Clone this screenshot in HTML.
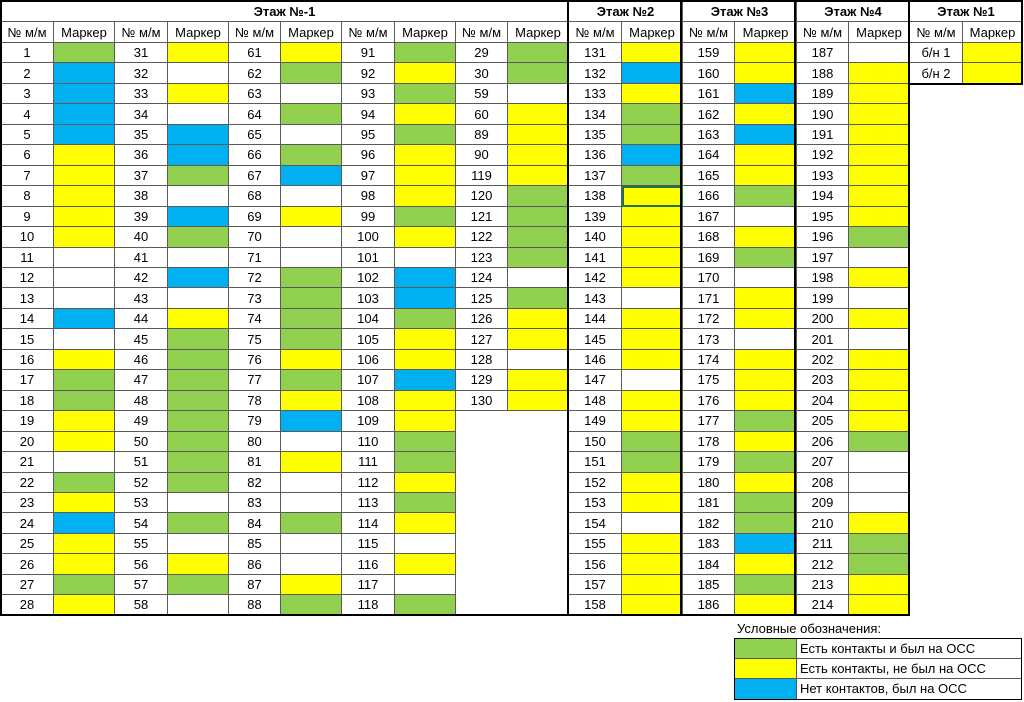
<!DOCTYPE html>
<html><head><meta charset="utf-8"><style>
body{margin:0;width:1024px;height:702px;background:#fff;position:relative;overflow:hidden;font-family:"Liberation Sans","DejaVu Sans",sans-serif;font-size:13px;color:#000}
#g{position:absolute;left:0;top:0;display:grid;grid-template-columns:53px 61px 53px 61px 52px 61px 53px 61px 52px 61px 53px 61px 52px 62px 52px 61px 53px 60px;grid-template-rows:21px 21px repeat(28,20.46px);border-left:1px solid #000;border-top:1px solid #000}
#g>*{display:flex;align-items:center;justify-content:center;box-sizing:border-box;border-right:1px solid #5a5a5a;border-bottom:1px solid #5a5a5a;white-space:nowrap;overflow:hidden}
h{font-weight:bold}
m[g]{background:#92d050}m[y]{background:#ffff00}m[b]{background:#00b0f0}
.bl{grid-column:9/11;grid-row:21/31;background:#fff}
.f1{grid-column:17/19;grid-row:5/31;background:#fff;border:none!important}
.v{position:absolute;background:#000;width:2px}
.hz{position:absolute;background:#000;height:2px}
#leg{position:absolute;left:734px;top:638px;width:288px;height:62px;border:1.5px solid #000;box-sizing:border-box}
#leg div{display:flex;height:20px;border-bottom:1px solid #555;box-sizing:border-box}
#leg div:last-child{border-bottom:none}
#leg span{width:61px;border-right:1px solid #555}
#leg i{font-style:normal;padding-left:3px;line-height:19px}
</style></head><body>
<div id="g">
<div class="bl"></div><div class="f1"></div>
<h style="grid-column:span 10">Этаж №-1</h><h style="grid-column:span 2">Этаж №2</h><h style="grid-column:span 2">Этаж №3</h><h style="grid-column:span 2">Этаж №4</h><h style="grid-column:span 2">Этаж №1</h>
<n>№ м/м</n><n>Маркер</n><n>№ м/м</n><n>Маркер</n><n>№ м/м</n><n>Маркер</n><n>№ м/м</n><n>Маркер</n><n>№ м/м</n><n>Маркер</n><n>№ м/м</n><n>Маркер</n><n>№ м/м</n><n>Маркер</n><n>№ м/м</n><n>Маркер</n><n>№ м/м</n><n>Маркер</n>
<n>1</n><m g></m><n>31</n><m y></m><n>61</n><m y></m><n>91</n><m g></m><n>29</n><m g></m><n>131</n><m y></m><n>159</n><m y></m><n>187</n><m></m><n>б/н 1</n><m y></m>
<n>2</n><m b></m><n>32</n><m></m><n>62</n><m g></m><n>92</n><m y></m><n>30</n><m g></m><n>132</n><m b></m><n>160</n><m y></m><n>188</n><m y></m><n>б/н 2</n><m y></m>
<n>3</n><m b></m><n>33</n><m y></m><n>63</n><m></m><n>93</n><m g></m><n>59</n><m></m><n>133</n><m y></m><n>161</n><m b></m><n>189</n><m y></m>
<n>4</n><m b></m><n>34</n><m></m><n>64</n><m g></m><n>94</n><m y></m><n>60</n><m y></m><n>134</n><m g></m><n>162</n><m y></m><n>190</n><m y></m>
<n>5</n><m b></m><n>35</n><m b></m><n>65</n><m></m><n>95</n><m g></m><n>89</n><m y></m><n>135</n><m g></m><n>163</n><m b></m><n>191</n><m y></m>
<n>6</n><m y></m><n>36</n><m b></m><n>66</n><m g></m><n>96</n><m y></m><n>90</n><m y></m><n>136</n><m b></m><n>164</n><m y></m><n>192</n><m y></m>
<n>7</n><m y></m><n>37</n><m g></m><n>67</n><m b></m><n>97</n><m y></m><n>119</n><m y></m><n>137</n><m g></m><n>165</n><m y></m><n>193</n><m y></m>
<n>8</n><m y></m><n>38</n><m></m><n>68</n><m></m><n>98</n><m y></m><n>120</n><m g></m><n>138</n><m y style="outline:2px solid #217346;outline-offset:-2px"></m><n>166</n><m g></m><n>194</n><m y></m>
<n>9</n><m y></m><n>39</n><m b></m><n>69</n><m y></m><n>99</n><m g></m><n>121</n><m g></m><n>139</n><m y></m><n>167</n><m></m><n>195</n><m y></m>
<n>10</n><m y></m><n>40</n><m g></m><n>70</n><m></m><n>100</n><m y></m><n>122</n><m g></m><n>140</n><m y></m><n>168</n><m y></m><n>196</n><m g></m>
<n>11</n><m></m><n>41</n><m></m><n>71</n><m></m><n>101</n><m></m><n>123</n><m g></m><n>141</n><m y></m><n>169</n><m g></m><n>197</n><m></m>
<n>12</n><m></m><n>42</n><m b></m><n>72</n><m g></m><n>102</n><m b></m><n>124</n><m></m><n>142</n><m y></m><n>170</n><m></m><n>198</n><m y></m>
<n>13</n><m></m><n>43</n><m></m><n>73</n><m g></m><n>103</n><m b></m><n>125</n><m g></m><n>143</n><m></m><n>171</n><m y></m><n>199</n><m></m>
<n>14</n><m b></m><n>44</n><m y></m><n>74</n><m g></m><n>104</n><m g></m><n>126</n><m y></m><n>144</n><m y></m><n>172</n><m y></m><n>200</n><m y></m>
<n>15</n><m></m><n>45</n><m g></m><n>75</n><m g></m><n>105</n><m y></m><n>127</n><m y></m><n>145</n><m y></m><n>173</n><m></m><n>201</n><m></m>
<n>16</n><m y></m><n>46</n><m g></m><n>76</n><m y></m><n>106</n><m y></m><n>128</n><m></m><n>146</n><m y></m><n>174</n><m y></m><n>202</n><m y></m>
<n>17</n><m g></m><n>47</n><m g></m><n>77</n><m g></m><n>107</n><m b></m><n>129</n><m y></m><n>147</n><m></m><n>175</n><m y></m><n>203</n><m y></m>
<n>18</n><m g></m><n>48</n><m g></m><n>78</n><m y></m><n>108</n><m y></m><n>130</n><m y></m><n>148</n><m y></m><n>176</n><m y></m><n>204</n><m y></m>
<n>19</n><m y></m><n>49</n><m g></m><n>79</n><m b></m><n>109</n><m y></m><n>149</n><m y></m><n>177</n><m g></m><n>205</n><m y></m>
<n>20</n><m y></m><n>50</n><m g></m><n>80</n><m></m><n>110</n><m g></m><n>150</n><m g></m><n>178</n><m y></m><n>206</n><m g></m>
<n>21</n><m></m><n>51</n><m g></m><n>81</n><m y></m><n>111</n><m g></m><n>151</n><m g></m><n>179</n><m g></m><n>207</n><m></m>
<n>22</n><m g></m><n>52</n><m g></m><n>82</n><m></m><n>112</n><m y></m><n>152</n><m y></m><n>180</n><m y></m><n>208</n><m></m>
<n>23</n><m y></m><n>53</n><m></m><n>83</n><m></m><n>113</n><m g></m><n>153</n><m y></m><n>181</n><m g></m><n>209</n><m></m>
<n>24</n><m b></m><n>54</n><m g></m><n>84</n><m g></m><n>114</n><m y></m><n>154</n><m></m><n>182</n><m g></m><n>210</n><m y></m>
<n>25</n><m y></m><n>55</n><m></m><n>85</n><m></m><n>115</n><m></m><n>155</n><m y></m><n>183</n><m b></m><n>211</n><m g></m>
<n>26</n><m y></m><n>56</n><m y></m><n>86</n><m></m><n>116</n><m y></m><n>156</n><m y></m><n>184</n><m y></m><n>212</n><m g></m>
<n>27</n><m g></m><n>57</n><m g></m><n>87</n><m y></m><n>117</n><m></m><n>157</n><m y></m><n>185</n><m g></m><n>213</n><m y></m>
<n>28</n><m y></m><n>58</n><m></m><n>88</n><m g></m><n>118</n><m g></m><n>158</n><m y></m><n>186</n><m y></m><n>214</n><m y></m>
</div>
<div class="v" style="left:0;top:0;height:616px"></div>
<div class="hz" style="left:0;top:0;width:1023px"></div>
<div class="v" style="left:567px;top:0;height:616px"></div>
<div class="v" style="left:680px;top:0;height:616px"></div>
<div class="v" style="left:794px;top:0;height:616px"></div>
<div class="v" style="left:908px;top:0;height:616px"></div>
<div class="v" style="left:1021px;top:0;height:85px"></div>
<div class="hz" style="left:0;top:614px;width:910px"></div>
<div class="hz" style="left:908px;top:83px;width:115px"></div>
<div style="position:absolute;left:737px;top:621px;font-size:13px">Условные обозначения:</div>
<div id="leg">
<div><span style="background:#92d050"></span><i>Есть контакты и был на ОСС</i></div>
<div><span style="background:#ffff00"></span><i>Есть контакты, не был на ОСС</i></div>
<div><span style="background:#00b0f0"></span><i>Нет контактов, был на ОСС</i></div>
</div>
</body></html>
